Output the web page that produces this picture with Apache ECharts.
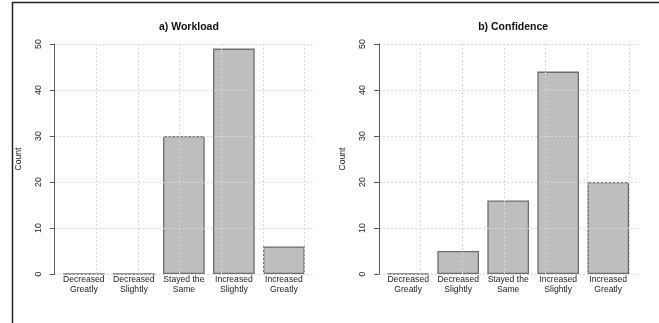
<!DOCTYPE html>
<html>
<head>
<meta charset="utf-8">
<script src="https://cdn.jsdelivr.net/npm/echarts@6/dist/echarts.min.js"></script>
<style>
html,body{margin:0;padding:0;background:#fff;}
#c{width:659px;height:323px;}
</style>
</head>
<body>
<div id="c"></div>
<script>
const categories = ['Decreased\nGreatly', 'Decreased\nSlightly', 'Stayed the\nSame', 'Increased\nSlightly', 'Increased\nGreatly'];
const workload = [0, 0, 30, 49, 6];
const confidence = [0, 5, 16, 44, 20];
const panelTitles = ['a) Workload', 'b) Confidence'];
const yAxisName = 'Count';
const yMin = 0, yMax = 50, yStep = 10;

const FONT = '"Liberation Sans", Arial, Helvetica, sans-serif';
const U = 41.67;          // pixels per bar unit
const TOP = 44, H = 230;
const panelX0 = [54.7, 379];
const seriesData = [workload, confidence];

const grid = [], xAxis = [], yAxis = [], series = [], title = [];
const gridLine = { show: true, lineStyle: { color: '#d8d8d8', type: [2, 2], width: 1 } };

panelX0.forEach((x0, p) => {
  const gA = grid.length;
  grid.push({ left: x0 + 0.1 * U, width: 6 * U, top: TOP, height: H, containLabel: false });
  grid.push({ left: x0, width: 6.2 * U, top: TOP, height: H, containLabel: false });
  grid.push({ left: x0, width: 6 * U, top: TOP, height: H, containLabel: false });

  xAxis.push({
    gridIndex: gA, type: 'category', data: categories,
    axisLine: { show: false }, axisTick: { show: false }, splitLine: { show: false },
    axisLabel: { interval: 0, margin: 1, fontFamily: FONT, fontSize: 8.6, color: '#222', lineHeight: 10 }
  });
  yAxis.push({ gridIndex: gA, type: 'value', min: yMin, max: yMax, show: false });

  xAxis.push({ gridIndex: gA + 1, type: 'value', min: 0, max: 6.2, show: false });
  yAxis.push({
    gridIndex: gA + 1, type: 'value', min: yMin, max: yMax, interval: yStep, z: 5,
    name: yAxisName, nameLocation: 'middle', nameGap: 32, nameRotate: 90,
    nameTextStyle: { fontFamily: FONT, fontSize: 8.6, color: '#222' },
    axisLine: { show: true, lineStyle: { color: '#5a5a5a', width: 1 } },
    axisTick: { show: true, length: 5, lineStyle: { color: '#5a5a5a', width: 1 } },
    axisLabel: { rotate: 90, margin: 12, fontFamily: FONT, fontSize: 8.8, color: '#222' },
    splitLine: gridLine
  });

  xAxis.push({
    gridIndex: gA + 2, type: 'value', min: 0, max: 6, interval: 1, z: 5,
    axisLine: { show: false }, axisTick: { show: false }, axisLabel: { show: false },
    splitLine: gridLine
  });
  yAxis.push({ gridIndex: gA + 2, type: 'value', min: yMin, max: yMax, show: false });

  series.push({
    type: 'bar', xAxisIndex: gA, yAxisIndex: gA, data: seriesData[p], z: 1,
    barWidth: '83.33%',
    itemStyle: { color: '#bebebe', borderColor: '#6e6e6e', borderWidth: 1.3 },
    silent: true
  });

  title.push({
    text: panelTitles[p], left: x0 + 3.1 * U, top: 17, textAlign: 'center',
    textStyle: { fontFamily: FONT, fontSize: 10.5, fontWeight: 'bold', color: '#111' }
  });
});

const chart = echarts.init(document.getElementById('c'), null, { renderer: 'canvas' });
chart.setOption({
  animation: false,
  backgroundColor: '#fff',
  title, grid, xAxis, yAxis, series,
  graphic: [
    { type: 'line', shape: { x1: 12, y1: 2.5, x2: 659, y2: 2.5 }, style: { stroke: '#222', lineWidth: 1.5 } },
    { type: 'line', shape: { x1: 12.5, y1: 2, x2: 12.5, y2: 323 }, style: { stroke: '#222', lineWidth: 1.5 } }
  ]
});
</script>
</body>
</html>
